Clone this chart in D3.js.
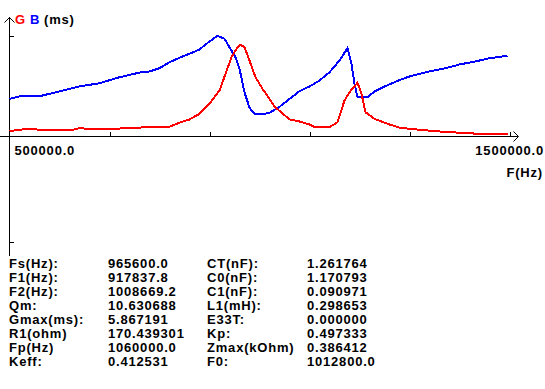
<!DOCTYPE html>
<html>
<head>
<meta charset="utf-8">
<script src="https://cdn.jsdelivr.net/npm/d3@7"></script>
<style>
  body { margin: 0; background: #fff; }
  svg text { font-family: "Liberation Sans", Arial, sans-serif; font-weight: bold; font-size: 13px; letter-spacing: 0.8px; }
</style>
</head>
<body>
<svg width="545" height="389"></svg>
<script>
// frequency in Hz, G and B in ms
const freqB = [500000, 520000, 558000, 640000, 680000, 720000, 760000, 780000, 800000, 820000, 840000, 860000, 880000, 900000, 916000, 930000, 940000, 952000, 960000, 970000, 980000, 990000, 1004000, 1020000, 1040000, 1060000, 1080000, 1100000, 1120000, 1140000, 1160000, 1176000, 1184000, 1190000, 1196000, 1216000, 1230000, 1250000, 1280000, 1300000, 1320000, 1340000, 1360000, 1380000, 1400000, 1420000, 1440000, 1460000, 1496000];
const valB = [2.41, 2.56, 2.56, 3.20, 3.41, 3.79, 4.09, 4.16, 4.37, 4.75, 5.04, 5.29, 5.57, 6.08, 6.44, 6.25, 5.71, 5.07, 4.33, 2.83, 1.84, 1.45, 1.41, 1.52, 1.90, 2.40, 2.90, 3.20, 3.58, 4.11, 4.86, 5.65, 4.65, 3.37, 2.51, 2.51, 2.88, 3.20, 3.61, 3.84, 4.01, 4.16, 4.29, 4.43, 4.61, 4.73, 4.86, 5.01, 5.16];

const freqG = [500000, 520000, 540000, 560000, 626000, 640000, 660000, 716000, 730000, 818000, 840000, 860000, 880000, 900000, 920000, 932000, 944000, 956000, 962000, 970000, 980000, 992000, 1006000, 1020000, 1030000, 1060000, 1080000, 1100000, 1110000, 1140000, 1156000, 1170000, 1180000, 1196000, 1204000, 1212000, 1230000, 1260000, 1280000, 1320000, 1360000, 1400000, 1440000, 1496000];
const valG = [0.34, 0.43, 0.49, 0.43, 0.43, 0.53, 0.49, 0.49, 0.56, 0.60, 0.88, 1.09, 1.45, 2.09, 2.94, 4.01, 5.07, 5.71, 5.87, 5.71, 4.86, 3.79, 3.05, 2.41, 1.92, 1.09, 0.96, 0.77, 0.60, 0.60, 0.91, 2.30, 2.83, 3.44, 2.73, 1.55, 1.13, 0.77, 0.56, 0.43, 0.32, 0.24, 0.17, 0.17];

const xTicks = [500000, 700000, 900000, 1100000, 1300000, 1500000];
const yTicks = [6.46, -6.72];

const labels1 = ["Fs(Hz):", "F1(Hz):", "F2(Hz):", "Qm:", "Gmax(ms):", "R1(ohm)", "Fp(Hz)", "Keff:"];
const values1 = ["965600.0", "917837.8", "1008669.2", "10.630688", "5.867191", "170.439301", "1060000.0", "0.412531"];
const labels2 = ["CT(nF):", "C0(nF):", "C1(nF):", "L1(mH):", "E33T:", "Kp:", "Zmax(kOhm)", "F0:"];
const values2 = ["1.261764", "1.170793", "0.090971", "0.298653", "0.000000", "0.497333", "0.386412", "1012800.0"];

const svg = d3.select("svg");

const x = d3.scaleLinear().domain([500000, 1500000]).range([9.5, 509.5]);
const y = d3.scaleLinear().domain([0, 6]).range([136.5, 42.7]);

const axis = svg.append("g")
  .attr("stroke", "black")
  .attr("fill", "none")
  .attr("shape-rendering", "crispEdges");

// y axis with arrow
axis.append("line").attr("x1", 9.5).attr("x2", 9.5).attr("y1", 17).attr("y2", 256);
axis.append("path").attr("d", "M4.5,22.5L9.5,17.5L14.5,22.5").attr("shape-rendering", "auto");
axis.selectAll(".yt").data(yTicks).join("line")
  .attr("x1", 9.5).attr("x2", 13.5)
  .attr("y1", d => Math.round(y(d)) + 0.5).attr("y2", d => Math.round(y(d)) + 0.5);

// x axis with arrow
axis.append("line").attr("x1", 0).attr("x2", 518).attr("y1", 136.5).attr("y2", 136.5);
axis.append("path").attr("d", "M513.5,131.5L518.5,136.5L513.5,141.5").attr("shape-rendering", "auto");
axis.selectAll(".xt").data(xTicks.slice(1)).join("line")
  .attr("x1", d => Math.round(x(d)) + 0.5).attr("x2", d => Math.round(x(d)) + 0.5)
  .attr("y1", 132).attr("y2", 136.5);

const line = d3.line().x(d => x(d[0])).y(d => y(d[1]));

svg.append("path")
  .datum(d3.zip(freqB, valB))
  .attr("d", line)
  .attr("fill", "none")
  .attr("stroke", "#0000ff")
  .attr("stroke-width", 2)
  .attr("shape-rendering", "crispEdges");

svg.append("path")
  .datum(d3.zip(freqG, valG))
  .attr("d", line)
  .attr("fill", "none")
  .attr("stroke", "#ff0000")
  .attr("stroke-width", 2)
  .attr("shape-rendering", "crispEdges");

// legend
svg.append("text").attr("x", 15).attr("y", 24).attr("fill", "#ff0000").text("G");
svg.append("text").attr("x", 30).attr("y", 24).attr("fill", "#0000ff").text("B");
svg.append("text").attr("x", 44).attr("y", 24).attr("fill", "black").text("(ms)");

// x labels
svg.append("text").attr("x", x(xTicks[0]) + 5).attr("y", 155).text(d3.format(".1f")(xTicks[0]));
svg.append("text").attr("x", 544).attr("y", 155).attr("text-anchor", "end").text(d3.format(".1f")(xTicks[xTicks.length - 1]));
svg.append("text").attr("x", 543).attr("y", 177).attr("text-anchor", "end").text("F(Hz)");

// parameter table
const rowY = i => 268 + i * 14;
const cols = [[labels1, 9], [values1, 108], [labels2, 207], [values2, 307]];
cols.forEach(([arr, cx]) => {
  svg.append("g").selectAll("text").data(arr).join("text")
    .attr("x", cx)
    .attr("y", (d, i) => rowY(i))
    .text(d => d);
});
</script>
</body>
</html>
